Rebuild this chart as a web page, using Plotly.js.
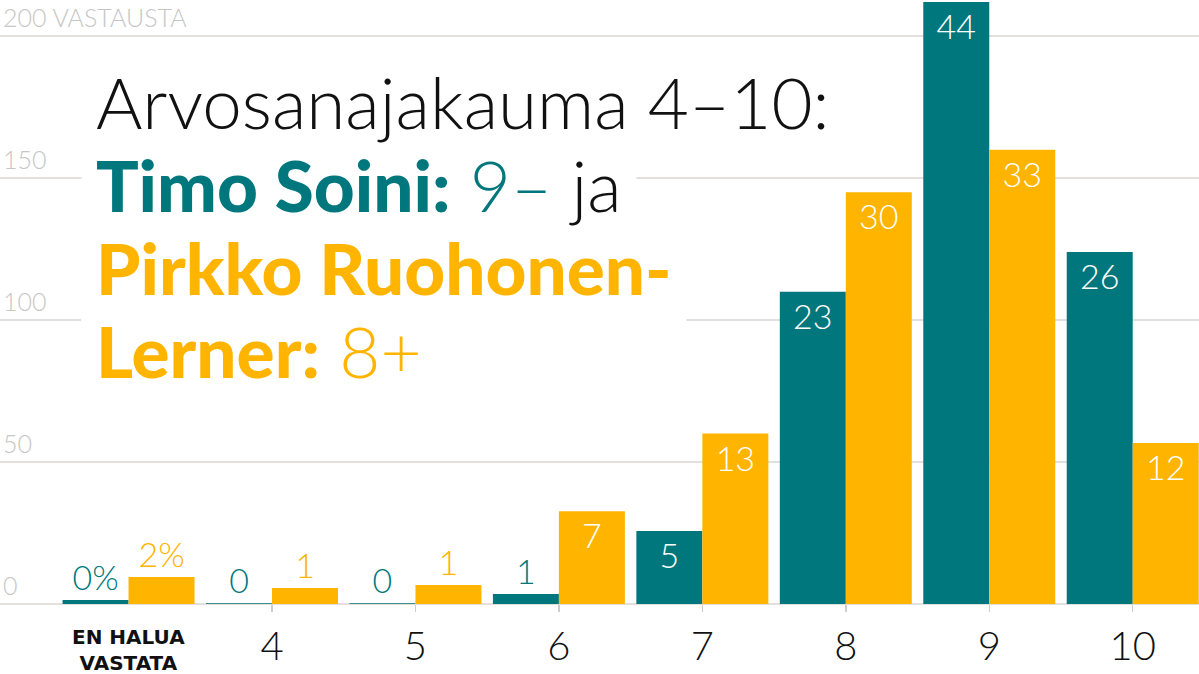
<!DOCTYPE html>
<html>
<head>
<meta charset="utf-8">
<script src="https://cdn.plot.ly/plotly-3.0.1.min.js"></script>
<style>
  html, body { margin: 0; padding: 0; background: #fff; }
  #chart { width: 1199px; height: 674px; }
</style>
</head>
<body>
<div id="chart"></div>
<script>
// vastausten määrät arvosanoittain (luettu kuvasta)
var categories = ['EN HALUA VASTATA', '4', '5', '6', '7', '8', '9', '10'];
var tickLabels = ['', '4', '5', '6', '7', '8', '9', '10'];
var soiniCounts = [1.4, 0.3, 0.3, 3.5, 25.7, 110, 212, 124];
var soiniPct = ['0%', '0', '0', '1', '5', '23', '44', '26'];
var ruohonenCounts = [9.5, 5.6, 6.7, 32.7, 60, 145, 160, 56.7];
var ruohonenPct = ['2%', '1', '1', '7', '13', '30', '33', '12'];
var yTicks = [0, 50, 100, 150, 200];
var yTickText = ['0', '50', '100', '150', '200 VASTAUSTA'];

var TEAL = '#00777d';
var YELLOW = '#ffb400';
var GRID = '#e2dfdc';
var LIGHT = 'Lato';

var data = [
  {
    type: 'bar',
    name: 'Timo Soini',
    x: categories,
    y: soiniCounts,
    text: soiniPct,
    textposition: 'auto',
    insidetextanchor: 'end',
    textangle: 0,
    constraintext: 'none',
    insidetextfont: { family: LIGHT, size: 34, color: '#fff', weight: 300 },
    outsidetextfont: { family: LIGHT, size: 34, color: TEAL, weight: 300 },
    marker: { color: TEAL, line: { width: 0 } },
    hoverinfo: 'none'
  },
  {
    type: 'bar',
    name: 'Pirkko Ruohonen-Lerner',
    x: categories,
    y: ruohonenCounts,
    text: ruohonenPct,
    textposition: 'auto',
    insidetextanchor: 'end',
    textangle: 0,
    constraintext: 'none',
    insidetextfont: { family: LIGHT, size: 34, color: '#fff', weight: 300 },
    outsidetextfont: { family: LIGHT, size: 34, color: YELLOW, weight: 300 },
    marker: { color: YELLOW, line: { width: 0 } },
    hoverinfo: 'none'
  }
];

var titleFont = { family: LIGHT, size: 71, color: '#111', weight: 300 };

// otsikkorivit alhaalta ylös, jotta ylemmät piirtyvät päällimmäisiksi
var annotations = [
  {
    text: "<span style='font-weight:900'>Lerner:</span> 8+",
    font: Object.assign({}, titleFont, { color: YELLOW }),
    y: 1 - 350 / 604
  },
  {
    text: "<span style='font-weight:900'>Pirkko Ruohonen-</span>",
    font: Object.assign({}, titleFont, { color: YELLOW }),
    y: 1 - 267 / 604
  },
  {
    text: "<span style='font-weight:900'>Timo Soini:</span> 9– <span style='color:#111'>ja</span>",
    font: Object.assign({}, titleFont, { color: TEAL }),
    y: 1 - 185 / 604
  },
  {
    text: 'Arvosanajakauma 4–10:',
    font: titleFont,
    y: 1 - 102 / 604
  }
].map(function (a) {
  return Object.assign({
    xref: 'paper', yref: 'paper',
    x: 81 / 1199, xanchor: 'left', yanchor: 'middle',
    showarrow: false, align: 'left',
    bgcolor: '#fff', borderpad: 14
  }, a);
});

annotations.push({
  text: 'EN HALUA<br>VASTATA',
  x: categories[0], xref: 'x',
  y: -0.032, yref: 'paper', yanchor: 'top',
  showarrow: false,
  font: { family: 'DejaVu Sans', size: 20, color: '#111', weight: 700 }
});

var layout = {
  width: 1199,
  height: 674,
  margin: { l: 0, r: 0, t: 0, b: 70 },
  paper_bgcolor: '#fff',
  plot_bgcolor: '#fff',
  showlegend: false,
  barmode: 'group',
  bargap: 0.08,
  bargroupgap: 0,
  xaxis: {
    type: 'category',
    range: [-0.896, 7.462],
    tickvals: categories,
    ticktext: tickLabels,
    ticks: 'outside',
    ticklen: 7,
    tickwidth: 1.5,
    tickcolor: '#cfcccc',
    tickfont: { family: LIGHT, size: 40, color: '#111', weight: 300 },
    showgrid: false,
    showline: false,
    zeroline: false
  },
  yaxis: {
    range: [0, 212.7],
    tickvals: yTicks,
    ticktext: yTickText,
    ticklabelposition: 'inside top',
    tickfont: { family: LIGHT, size: 25, color: '#c6c6c6', weight: 300 },
    ticks: '',
    showgrid: true,
    gridcolor: GRID,
    gridwidth: 2,
    zeroline: true,
    zerolinecolor: GRID,
    zerolinewidth: 2,
    showline: false
  },
  annotations: annotations
};

Plotly.newPlot('chart', data, layout, { displayModeBar: false, staticPlot: true });
</script>
</body>
</html>
